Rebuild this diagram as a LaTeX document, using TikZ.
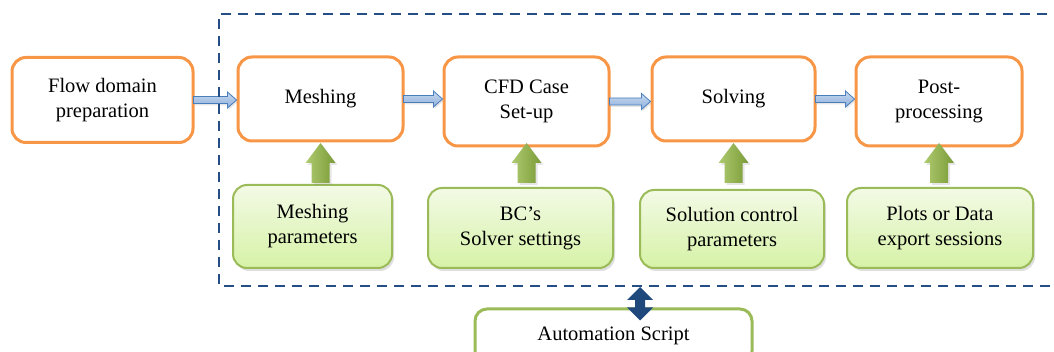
\documentclass[tikz,border=0pt]{standalone}
\usepackage{fontspec}
\setmainfont{Liberation Serif}
\newfontfamily\timesfam{Liberation Serif}
\usetikzlibrary{calc,shadows}
\definecolor{orangeB}{HTML}{F79646}
\definecolor{greenB}{HTML}{9BBB59}
\definecolor{gTop}{HTML}{F3FAE6}
\definecolor{gBot}{HTML}{D6F2A6}
\definecolor{gArrL}{HTML}{AECB70}
\definecolor{gArrR}{HTML}{7A9A36}
\definecolor{dashB}{HTML}{264E86}
\definecolor{darkB}{HTML}{1F497D}
\definecolor{blOut}{HTML}{4A7EBB}
\definecolor{blTop}{HTML}{C9DAF0}
\definecolor{blBot}{HTML}{8DAFDB}
\newcommand\hblock[2]{%
  \path[blarrow] let \p1=(#1.east), \p2=(#2.west) in
    (\x1-1pt,\y1-3.5pt) -- (\x2-9pt,\y1-3.5pt) -- (\x2-9pt,\y1-8pt) -- (\x2,\y1)
    -- (\x2-9pt,\y1+8pt) -- (\x2-9pt,\y1+3.5pt) -- (\x1-1pt,\y1+3.5pt) -- cycle;}
\newcommand\vblock[2]{%
  \path[garrow] let \p1=(#2.south), \p2=(gtip), \p3=(gbase) in
    (\x1-9pt,\y3) -- (\x1-9pt,\y2-20pt) -- (\x1-15pt,\y2-20pt) -- (\x1,\y2)
    -- (\x1+15pt,\y2-20pt) -- (\x1+9pt,\y2-20pt) -- (\x1+9pt,\y3) -- cycle;}
\begin{document}
\begin{tikzpicture}[x=1pt,y=-1pt,
  font=\timesfam\fontsize{20.5}{25}\selectfont,
  obox/.style={draw=orangeB, line width=3pt, rounded corners=14pt, fill=white,
    align=center, inner sep=0pt},
  gbox/.style={draw=greenB, line width=2pt, rounded corners=14pt, top color=gTop,
    bottom color=gBot, align=center, inner sep=0pt,
    drop shadow={opacity=0.25, shadow xshift=2pt, shadow yshift=-3pt}},
  abox/.style={draw=greenB, line width=3pt, rounded corners=12pt, fill=white,
    align=center, inner sep=0pt},
  blarrow/.style={draw=blOut, line width=0.8pt, top color=blTop, bottom color=blBot,
    drop shadow={opacity=0.2, shadow xshift=1pt, shadow yshift=-2pt}},
  garrow/.style={left color=gArrL, right color=gArrR,
    drop shadow={opacity=0.2, shadow xshift=2pt, shadow yshift=-2pt}},
  dashline/.style={draw=dashB, line width=2.2pt, dash pattern=on 10pt off 7pt},
  dblarrow/.style={fill=darkB}]
\useasboundingbox (0,0) rectangle (1054,352);
\clip (0,0) rectangle (1054,352);

% orange process boxes
\node[obox, minimum width=181pt, minimum height=85pt] (flow) at (102.5,100) {Flow domain\\preparation};
\node[obox, minimum width=165pt, minimum height=84pt] (mesh) at (320.5,99) {Meshing};
\node[obox, minimum width=165pt, minimum height=89pt] (cfd) at (526.5,101.5) {CFD Case\\Set-up};
\node[obox, minimum width=163pt, minimum height=84pt] (solve) at (733.5,99) {Solving};
\node[obox, minimum width=166pt, minimum height=89pt] (post) at (939,101.5) {Post-\\processing};

% green parameter boxes
\node[gbox, minimum width=159pt, minimum height=83pt] (mp) at (312.5,226.5) {Meshing\\parameters};
\node[gbox, minimum width=185pt, minimum height=80pt] (bc) at (520.5,228) {BC’s\\Solver settings};
\node[gbox, minimum width=184pt, minimum height=78pt] (sc) at (732,229) {Solution control\\parameters};
\node[gbox, minimum width=186pt, minimum height=80pt] (pd) at (940,228) {Plots or Data\\export sessions};

% automation box
\node[abox, minimum width=277pt, minimum height=54pt] (auto) at (613.5,336) {Automation Script};

% horizontal block arrows
\hblock{flow}{mesh}
\hblock{mesh}{cfd}
\hblock{cfd}{solve}
\hblock{solve}{post}

% vertical green arrows
\coordinate (gtip) at (0,143);
\coordinate (gbase) at (0,183);
\vblock{mp}{mesh}
\vblock{bc}{cfd}
\vblock{sc}{solve}
\vblock{pd}{post}

% dashed automation region
\coordinate (dtr) at (1064,14);
\coordinate (dtl) at (219,14);
\coordinate (dbl) at (219,286);
\coordinate (dbr) at (1064,286);
\draw[dashline] (dtr) -- (dtl) -- (dbl) -- (dbr);

% double arrow
\coordinate (dab) at (640,287);
\path[dblarrow] let \p1=(dab), \p2=($(auto.north -| dab)+(0,13)$) in
  (\x1,\y1) -- (\x1+13pt,\y1-13pt) -- (\x1+5pt,\y1-13pt) -- (\x1+5pt,\y2+13pt)
  -- (\x1+13pt,\y2+13pt) -- (\x1,\y2) -- (\x1-13pt,\y2+13pt) -- (\x1-5pt,\y2+13pt)
  -- (\x1-5pt,\y1-13pt) -- (\x1-13pt,\y1-13pt) -- cycle;
\end{tikzpicture}
\end{document}
